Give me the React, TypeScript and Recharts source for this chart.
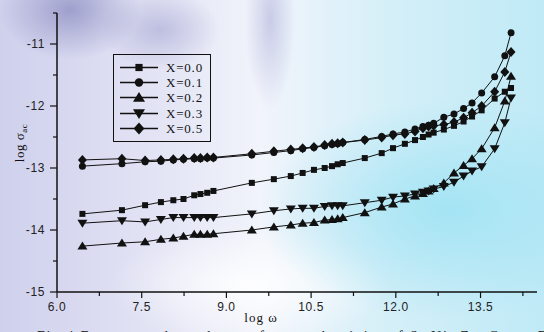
import { LineChart, Line, XAxis, YAxis, Legend, Label } from "recharts";

// log(omega) values shared by all compositions
const logW = [
  6.45, 7.15, 7.56, 7.84, 8.06, 8.24, 8.43, 8.54, 8.66, 8.77,
  9.45, 9.84, 10.14, 10.35, 10.55, 10.74, 10.87, 10.97, 11.06, 11.45, 11.75, 11.95,
  12.16, 12.34, 12.48, 12.58, 12.67, 12.85, 13.03, 13.2, 13.35, 13.52, 13.75, 13.93, 14.04,
];

// log sigma_ac per composition
const x00 = [
  -13.74, -13.68, -13.6, -13.55, -13.52, -13.5, -13.44, -13.42, -13.4, -13.37,
  -13.24, -13.18, -13.13, -13.08, -13.03, -13.0, -12.97, -12.94, -12.92, -12.84, -12.76, -12.68,
  -12.61, -12.55, -12.5, -12.46, -12.43, -12.38, -12.32, -12.25, -12.17, -12.07, -11.88, -11.77, -11.71,
];
const x01 = [
  -12.97, -12.93, -12.9, -12.89, -12.87, -12.86, -12.85, -12.85, -12.84, -12.84,
  -12.79, -12.75, -12.72, -12.69, -12.67, -12.64, -12.62, -12.61, -12.59, -12.54, -12.49, -12.45,
  -12.42, -12.37, -12.33, -12.31, -12.28, -12.18, -12.13, -12.04, -11.95, -11.79, -11.53, -11.19, -10.82,
];
const x02 = [
  -14.26, -14.21, -14.19, -14.15, -14.13, -14.1, -14.07, -14.07, -14.07, -14.06,
  -14.0, -13.95, -13.92, -13.89, -13.88, -13.84, -13.83, -13.82, -13.8, -13.72, -13.63, -13.58,
  -13.5, -13.45, -13.41, -13.37, -13.33, -13.24, -13.08, -12.96, -12.85, -12.69, -12.35, -11.92, -11.52,
];
const x03 = [
  -13.89, -13.85, -13.87, -13.83, -13.8, -13.8, -13.8, -13.8, -13.8, -13.8,
  -13.74, -13.69, -13.66, -13.65, -13.65, -13.62, -13.61, -13.61, -13.61, -13.56, -13.52, -13.47,
  -13.45, -13.42, -13.39, -13.37, -13.34, -13.3, -13.23, -13.13, -13.05, -12.98, -12.69, -12.27, -11.87,
];
const x05 = [
  -12.87, -12.85, -12.88, -12.87, -12.86, -12.85, -12.84, -12.84, -12.83, -12.83,
  -12.77, -12.73, -12.7, -12.68, -12.66, -12.63, -12.61, -12.6, -12.59, -12.55, -12.51, -12.47,
  -12.45, -12.41, -12.36, -12.33, -12.32, -12.3, -12.26, -12.19, -12.11, -12.0, -11.77, -11.45, -11.13,
];

const xMajor = [6, 7.5, 9, 10.5, 12, 13.5];
const xMinor = [6.75, 8.25, 9.75, 11.25, 12.75, 14.25];
const yMajor = [-15, -14, -13, -12, -11];
const yMinor = [-14.5, -13.5, -12.5, -11.5, -10.5];

type Shape = "square" | "circle" | "up" | "down" | "diamond";

const SERIES: { key: string; name: string; shape: Shape; values: number[] }[] = [
  { key: "x00", name: "X=0.0", shape: "square", values: x00 },
  { key: "x01", name: "X=0.1", shape: "circle", values: x01 },
  { key: "x02", name: "X=0.2", shape: "up", values: x02 },
  { key: "x03", name: "X=0.3", shape: "down", values: x03 },
  { key: "x05", name: "X=0.5", shape: "diamond", values: x05 },
];

const data = logW.map((w, i) => {
  const row: Record<string, number> = { w };
  SERIES.forEach((s) => (row[s.key] = s.values[i]));
  return row;
});

const INK = "#111";
const SANS = "'Liberation Sans', Arial, sans-serif";
const SERIF = "'Liberation Serif', 'Times New Roman', serif";

function Marker({ cx, cy, shape, k = 1 }: { cx: number; cy: number; shape: Shape; k?: number }) {
  if (cx == null || cy == null) return null;
  switch (shape) {
    case "square":
      return <rect x={cx - 3 * k} y={cy - 3 * k} width={6 * k} height={6 * k} fill={INK} />;
    case "circle":
      return <circle cx={cx} cy={cy} r={3.5 * k} fill={INK} />;
    case "up":
      return (
        <polygon
          points={`${cx},${cy - 4.5 * k} ${cx - 5 * k},${cy + 3.5 * k} ${cx + 5 * k},${cy + 3.5 * k}`}
          fill={INK}
        />
      );
    case "down":
      return (
        <polygon
          points={`${cx},${cy + 4.5 * k} ${cx - 5 * k},${cy - 3.5 * k} ${cx + 5 * k},${cy - 3.5 * k}`}
          fill={INK}
        />
      );
    default:
      return (
        <polygon
          points={`${cx},${cy - 5 * k} ${cx + 4.5 * k},${cy} ${cx},${cy + 5 * k} ${cx - 4.5 * k},${cy}`}
          fill={INK}
        />
      );
  }
}

function XTick({ x, y, payload }: any) {
  const major = xMajor.includes(payload.value);
  return (
    <g>
      <line x1={x} x2={x} y1={y} y2={y + (major ? 6 : 4)} stroke={INK} strokeWidth={1.2} />
      {major && (
        <text x={x} y={y + 19} textAnchor="middle" fontSize={12} fontFamily={SANS} fill="#222" letterSpacing={0.6}>
          {payload.value.toFixed(1)}
        </text>
      )}
    </g>
  );
}

function YTick({ x, y, payload }: any) {
  const major = yMajor.includes(payload.value);
  return (
    <g>
      <line x1={x - (major ? 7 : 4)} x2={x} y1={y} y2={y} stroke={INK} strokeWidth={1.2} />
      {major && (
        <text x={x - 12} y={y + 4} textAnchor="end" fontSize={12} fontFamily={SANS} fill="#222" letterSpacing={0.6}>
          {payload.value}
        </text>
      )}
    </g>
  );
}

function LegendBox() {
  return (
    <div
      style={{
        width: 98,
        height: 88,
        boxSizing: "border-box",
        border: `1px solid ${INK}`,
        padding: "5px 0 0 5px",
      }}
    >
      {SERIES.map((s) => (
        <div key={s.key} style={{ display: "flex", alignItems: "center", height: 15.2 }}>
          <svg width={44} height={15} style={{ display: "block" }}>
            <line x1={1} x2={39} y1={7.5} y2={7.5} stroke={INK} strokeWidth={1.4} />
            <Marker cx={20} cy={7.5} shape={s.shape} k={1.2} />
          </svg>
          <span
            style={{ fontFamily: SERIF, fontSize: 13, letterSpacing: 0.8, color: INK, marginLeft: 3, lineHeight: "15px" }}
          >
            {s.name}
          </span>
        </div>
      ))}
    </div>
  );
}

export default function App() {
  return (
    <div
      style={{
        position: "absolute",
        left: 0,
        top: 0,
        width: 544,
        height: 332,
        overflow: "hidden",
        background: [
          "radial-gradient(ellipse 70px 50px at 70px 10px, rgba(135,135,190,0.7), rgba(135,135,190,0))",
          "radial-gradient(ellipse 60px 40px at 160px 30px, rgba(165,165,210,0.6), rgba(165,165,210,0))",
          "radial-gradient(ellipse 25px 90px at 270px 20px, rgba(170,170,215,0.55), rgba(170,170,215,0))",
          "radial-gradient(ellipse 190px 110px at 450px 210px, #a4e4f4, rgba(164,228,244,0))",
          "radial-gradient(ellipse 140px 60px at 250px 285px, rgba(255,255,255,0.9), rgba(255,255,255,0))",
          "linear-gradient(90deg, #cfd0ec 0%, #e2e3f4 28%, #f1f4fb 48%, #d4eff8 72%, #bfeaf6 100%)",
        ].join(","),
      }}
    >
      <LineChart width={544} height={332} data={data} margin={{ top: 13, right: 7, bottom: 10, left: 7 }}>
        <XAxis
          dataKey="w"
          type="number"
          domain={[6, 14.5]}
          allowDataOverflow
          ticks={[...xMajor, ...xMinor].sort((a, b) => a - b)}
          interval={0}
          tick={<XTick />}
          tickLine={false}
          tickSize={0}
          tickMargin={0}
          height={30}
          axisLine={{ stroke: INK, strokeWidth: 1.5 }}
        >
          <Label
            content={() => (
              <text x={261} y={322} textAnchor="middle" fontSize={13} fontFamily={SERIF} fill={INK} letterSpacing={1}>
                log ω
              </text>
            )}
          />
        </XAxis>
        <YAxis
          type="number"
          domain={[-15, -10.5]}
          allowDataOverflow
          ticks={[...yMajor, ...yMinor].sort((a, b) => a - b)}
          interval={0}
          tick={<YTick />}
          tickLine={false}
          tickSize={0}
          tickMargin={0}
          width={50}
          axisLine={{ stroke: INK, strokeWidth: 1.5 }}
        >
          <Label
            content={() => (
              <text
                x={24}
                y={143}
                transform="rotate(-90 24 143)"
                textAnchor="middle"
                fontSize={13}
                fontFamily={SERIF}
                fill={INK}
                letterSpacing={0.5}
              >
                log σ
                <tspan fontSize={9} dy={3}>
                  ac
                </tspan>
              </text>
            )}
          />
        </YAxis>
        <Legend
          layout="vertical"
          align="center"
          verticalAlign="middle"
          content={() => <LegendBox />}
          wrapperStyle={{ position: "absolute", left: 113, top: 54, width: 98, height: 88 }}
        />
        {SERIES.map((s) => (
          <Line
            key={s.key}
            dataKey={s.key}
            name={s.name}
            type="linear"
            stroke={INK}
            strokeWidth={1}
            isAnimationActive={false}
            activeDot={false}
            dot={(p: any) => <Marker key={`${s.key}-${p.index}`} cx={p.cx} cy={p.cy} shape={s.shape} />}
          />
        ))}
      </LineChart>
      <svg width={544} height={332} style={{ position: "absolute", left: 0, top: 0, pointerEvents: "none" }}>
        <text x={37} y={341} fontSize={14} fontFamily={SERIF} fill="#222" letterSpacing={1.8}>
          Fig.4 Frequency dependence of ac conductivity of Sr Ni
          <tspan fontSize={9} dy={3}>x</tspan>
          <tspan dy={-3}> Zr</tspan>
          <tspan fontSize={9} dy={3}>x</tspan>
          <tspan dy={-3}> Co</tspan>
          <tspan fontSize={9} dy={3}>2-2x</tspan>
          <tspan dy={-3}> Fe</tspan>
          <tspan fontSize={9} dy={3}>16</tspan>
          <tspan dy={-3}> O</tspan>
          <tspan fontSize={9} dy={3}>27</tspan>
        </text>
      </svg>
    </div>
  );
}
